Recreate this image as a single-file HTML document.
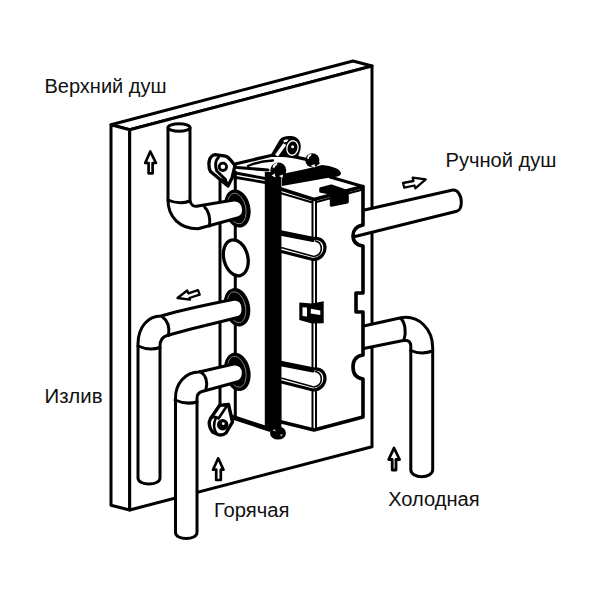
<!DOCTYPE html>
<html><head><meta charset="utf-8">
<style>
html,body{margin:0;padding:0;background:#fff;width:600px;height:600px;overflow:hidden}
svg{display:block}
text{font-family:"Liberation Sans",sans-serif;font-size:19.5px;fill:#111}
</style></head>
<body>
<svg width="600" height="600" viewBox="0 0 600 600">
<g fill="#fff" stroke="#000" stroke-width="3" stroke-linejoin="round" stroke-linecap="round">
<!-- PANEL -->
<path d="M111,124.7 L353,61 L372,66 L129.7,129.7 Z"/>
<path d="M111,124.7 L129.7,129.7 L129.7,510 L111,505.3 Z"/>
<path d="M129.7,129.7 L372,66 L372,446.7 L129.7,510 Z"/>

<!-- ARROWS on panel -->
<path d="M150.3,151.5 L145.2,163 L148.6,163 L148.6,173.3 L152.6,173.3 L152.6,163 L156,163 Z" stroke-width="2.7"/>
<path d="M218.2,458.3 L213,469.7 L216.2,469.7 L216.2,480 L220.8,480 L220.8,469.7 L223.5,469.7 Z" stroke-width="2.7"/>
<path d="M394,448 L388.7,459.5 L392.2,459.5 L392.2,470 L396,470 L396,459.5 L399.6,459.5 Z" stroke-width="2.8"/>
<path d="M177.5,298 L187.2,290.5 L188.3,293.3 L198,290.2 L199.7,294.7 L189.3,298 L190,299.7 Z" stroke-width="2.3"/>
<path d="M425.7,179.3 L412.7,177.7 L413.5,181 L403,183 L404.3,187.7 L414.5,185.5 L415.3,188.3 Z" stroke-width="2.3"/>

<!-- SHOWER PIPE (behind block) -->
<path d="M350,213.3 L451.7,190.3 C457.5,189 461.3,195 461.3,202.5 C461.3,207 459.5,210.5 456.7,211.3 L350,237.8 Z"/>
<!-- COLD PIPE (behind block) -->
<path d="M350,329 L401,317.7 C419,315 432.7,329 432.7,348 L432.7,469.5 C432.7,479 410.8,479 410.8,469.5 L410.8,346 C410.8,342.5 408.5,340.2 404.5,340.2 L350,351.3 Z"/>
<path d="M400.7,318.5 C405,322 406.5,332 404,340" fill="none"/>
<path d="M410.8,350.5 Q421,355 432.7,351" fill="none"/>

<!-- BOX left section -->
<path d="M220,178 L220,405" fill="none"/>
<path d="M235.3,172 L235.3,417" fill="none"/>
<path d="M229,416 L270,429.5" fill="none" stroke-width="4.6"/>
<!-- top edges -->
<path d="M230,172 L268,179" fill="none" stroke-width="2.8"/>
<path d="M230,176.5 L268,183" fill="none" stroke-width="2.8"/>
<path d="M235,164 L271,155.5 C286,154 300,157 318,163" fill="none" stroke-width="3.2"/>
<path d="M248,166 Q259,161 273,160.5" fill="none" stroke-width="2.4"/>
<path d="M237,167.5 L268,170" fill="none" stroke-width="3"/>

<!-- RIGHT BLOCK -->
<path d="M279.5,188.5 L314,199.5 L363,186.5 L363,225 C356,226 353,231 353,235.5 C353,241 356,245 363,246 L363,293 L356,293 L356,312 L363,312 L363,355 C356,356 353,361 353,367 C353,373 356,378 363,379 L363,417 L314,430 L279.5,421.5 Z" stroke-width="3.6"/>
<path d="M330,177 L363,186.5" fill="none"/>
<path d="M312.5,199 L312.5,430" fill="none" stroke-width="2"/>
<path d="M316,199 L316,430" fill="none" stroke-width="2"/>
<path d="M281,193.3 L311.5,202.3" fill="none" stroke-width="2"/>
<path d="M316.5,202 L361,190" fill="none" stroke-width="2"/>
<!-- top black band -->
<path d="M282,174 L306,169 L322,165 C332,166 341,169 341,173.5 C341,176 337,177 330,177.5 L282,186 Z" fill="#000" stroke="none"/>
<!-- clip on top -->
<path d="M320.7,188.7 L331.3,186 L347.3,191.3 L347.3,202 L331.3,205.3 L331.3,193.3 L320.7,191.3 Z" fill="#000"/>
<!-- tubes on block -->
<path d="M279.5,231.5 L314,238.5 C322,238 325,243 325,248 C325,254 320,259.5 313,259.5 L279.5,251 Z" stroke-width="3.2"/>
<path d="M282,234.5 L313,240.5" fill="none" stroke-width="3"/>
<path d="M282,247.8 L313,256.3" fill="none" stroke-width="1.6"/>
<path d="M315.5,241 C319.5,242 321.3,245 321.3,248.5 C321.3,252 319,255.5 314,256.5" fill="none" stroke-width="1.6"/>
<path d="M279.5,362 L314,369 C322,368.5 325,373.5 325,378.5 C325,384.5 320,390 313,390 L279.5,381.5 Z" stroke-width="3.2"/>
<path d="M282,365 L313,371" fill="none" stroke-width="3"/>
<path d="M282,378.3 L313,386.8" fill="none" stroke-width="1.6"/>
<path d="M315.5,371.5 C319.5,372.5 321.3,375.5 321.3,379 C321.3,382.5 319,386 314,387" fill="none" stroke-width="1.6"/>
<!-- clip on face -->
<path d="M299.3,302.5 L312,303.5 L323.7,301.3 L323.7,323.3 L312,323.5 L299.3,320 Z" fill="#000" stroke="none"/>
<path d="M302.5,307.3 L307,307.6 L307,316.5 L302.5,316 Z" fill="#fff" stroke="none"/>
<path d="M310.8,308.8 L320.3,310.5 L320.3,315 L310.8,313.5 Z" fill="#fff" stroke="none"/>

<!-- black bar -->
<rect x="264.8" y="172" width="16.6" height="258" fill="#000" stroke="none"/>
<ellipse cx="278" cy="433" rx="8" ry="6.6" fill="#000" stroke="none"/>
<path d="M272.5,430.5 L275,429 L275.5,431.5 Z M279.5,435 L282.5,434 L282,436.5 Z" fill="#fff" stroke="none" opacity="0.7"/>

<!-- LUGS -->
<!-- left top lug -->
<path d="M228,186 L210.5,171.5 C208.3,168 208.3,160 211,157 C212.3,155.5 213.5,154.7 215,154.7 L225.5,156.2 C227.5,156.7 229,158 231,160.5 L235,165.5 L232,178 Z" stroke-width="3.3"/>
<path d="M218.5,157.3 C215.3,160 214.8,166 216.8,171 L225.5,179.5" fill="none" stroke-width="3"/>
<circle cx="222.9" cy="166.8" r="3.7" stroke-width="2.8"/>
<path d="M221,178 L227,180 L229.5,186 L226,185.5 Z" fill="#000" stroke="none"/>
<!-- top center lug -->
<g stroke="none">
<path d="M269.5,157 L279.5,140 C282,136 288,135.5 294,136.5 C299.5,138 301.5,144 300.5,149.5 L298,157 Z" fill="#000"/>
<path d="M275,154.8 L283.3,143.3 L286.3,145 L278,156.5 Z" fill="#fff"/>
<path d="M283.3,140.8 C284.5,139.6 286.5,139.3 288.5,139.5 L287,141.8 C285.8,141.8 284.8,142 284,142.5 Z" fill="#fff"/>
<ellipse cx="292.5" cy="148" rx="5.6" ry="7.3" transform="rotate(10 292.5 148)" fill="none" stroke="#fff" stroke-width="1.3"/>
<circle cx="292.6" cy="146.8" r="1.5" fill="#fff"/>
<!-- knobs -->
<circle cx="278.3" cy="170.5" r="8" fill="#000"/>
<path d="M272.5,167.5 C273,164.5 275,163 277.5,162.8 L277,165 C275.5,165.3 274.8,166.5 274.5,168 Z" fill="#fff"/>
<path d="M271.5,175.5 L274.8,173.5 L275.5,177.5 Z" fill="#fff"/>
<path d="M279,176 L283,174.5 L282.5,178 Z" fill="#fff"/>
<circle cx="312.3" cy="160.3" r="7" fill="#000"/>
<path d="M307,158.5 C307.3,155.5 309.3,154 311.5,153.8 L311,156 C309.5,156.3 309,157.3 308.8,159 Z" fill="#fff"/>
<path d="M310.5,166 L314.5,164 L315,167.5 Z" fill="#fff"/>
</g>
<!-- lower lug -->
<path d="M219.5,405.5 L228.5,404.5 L232.5,422 L226,433 C223,435.5 220.5,435.5 218,434.5 L212.5,432 C209,428 208.5,422 210.3,419 Z" stroke-width="3.4"/>
<path d="M214,416.7 L222,406.5 L224.5,408 L216.5,418.5 Z" fill="#fff" stroke="none"/>
<path d="M210.5,418 C213,416.5 216,416.5 218.5,418.5 L227.5,405" fill="none" stroke-width="2.6"/>
<path d="M215.5,419 C213.5,423 213.5,429 216,432.5" fill="none" stroke-width="2.6"/>
<circle cx="222.7" cy="424.7" r="4.2" fill="#000" stroke-width="3"/>
<circle cx="223.3" cy="423.7" r="1.4" fill="#fff" stroke="none"/>

<!-- RINGS and plate -->
<ellipse cx="237.3" cy="208.5" rx="13" ry="19.3" transform="rotate(-12 237.3 208.5)" fill="#000" stroke="none"/>
<ellipse cx="235.8" cy="257.8" rx="12" ry="18.3" transform="rotate(-14 235.8 257.8)" stroke-width="3.3"/>
<ellipse cx="237" cy="307.2" rx="13" ry="19.5" transform="rotate(-12 237 307.2)" fill="#000" stroke="none"/>
<ellipse cx="237.3" cy="371.8" rx="13" ry="19.5" transform="rotate(-12 237.3 371.8)" fill="#000" stroke="none"/>
<g fill="none" stroke="#fff" stroke-width="0.9" opacity="0.5">
<ellipse cx="236.8" cy="208.5" rx="9" ry="15.5" transform="rotate(-12 236.8 208.5)"/>
<ellipse cx="236.5" cy="307.2" rx="9" ry="15.7" transform="rotate(-12 236.5 307.2)"/>
<ellipse cx="236.8" cy="371.8" rx="9" ry="15.7" transform="rotate(-12 236.8 371.8)"/>
</g>

<!-- UPPER PIPE -->
<path d="M168,128 L168,200 C168,217 180,229 198,228.8 L238.3,217.7 C242,216.5 243.8,213 243.5,209 C243,203 239,199.5 233.7,200 L198,206 C194,207 191,205 190,201 L190,128 Z"/>
<ellipse cx="179" cy="127.5" rx="11" ry="3.8"/>
<path d="M168,200 Q179,205 190,201" fill="none"/>
<path d="M204.5,207 C209,211 210.5,219 209.5,226" fill="none"/>

<!-- OUTLET PIPE -->
<path d="M138,478 L138,344 C138,327 148,316 161,316 Q185,309 234,299.3 C239.5,298.5 243,303 243,308.5 C243,313 241,317 237.7,317.5 L190,329.3 L167,335.5 C162,337 160,340 160,346 L160,478 C160,486 138,486 138,478 Z"/>
<path d="M138,346 Q149,351 160,347.5" fill="none"/>
<path d="M162,316.5 C167,320 170,326 168.5,335.5" fill="none"/>

<!-- HOT PIPE -->
<path d="M175.5,532.5 L175.5,399 C175,383 186,372 199,372 L233.7,364 C239,363.3 243.3,367 243.3,373 C243.3,377 241,381.5 237,382 L202,391.5 C199,392.5 197,394.5 197,398 L197,532.5 C197,540.5 175.5,540.5 175.5,532.5 Z"/>
<path d="M175,400 Q186,405 197,402" fill="none"/>
<path d="M200,371.5 C206,375 208,382 206,389" fill="none"/>
</g>

<text x="44.5" y="92.5" textLength="122" lengthAdjust="spacingAndGlyphs">Верхний душ</text>
<text x="445.5" y="166.8" textLength="111" lengthAdjust="spacingAndGlyphs">Ручной душ</text>
<text x="44.5" y="403.2" textLength="58" lengthAdjust="spacingAndGlyphs">Излив</text>
<text x="214" y="516.6" textLength="75.5" lengthAdjust="spacingAndGlyphs">Горячая</text>
<text x="388.2" y="505.8" textLength="91.5" lengthAdjust="spacingAndGlyphs">Холодная</text>
</svg>
</body></html>
